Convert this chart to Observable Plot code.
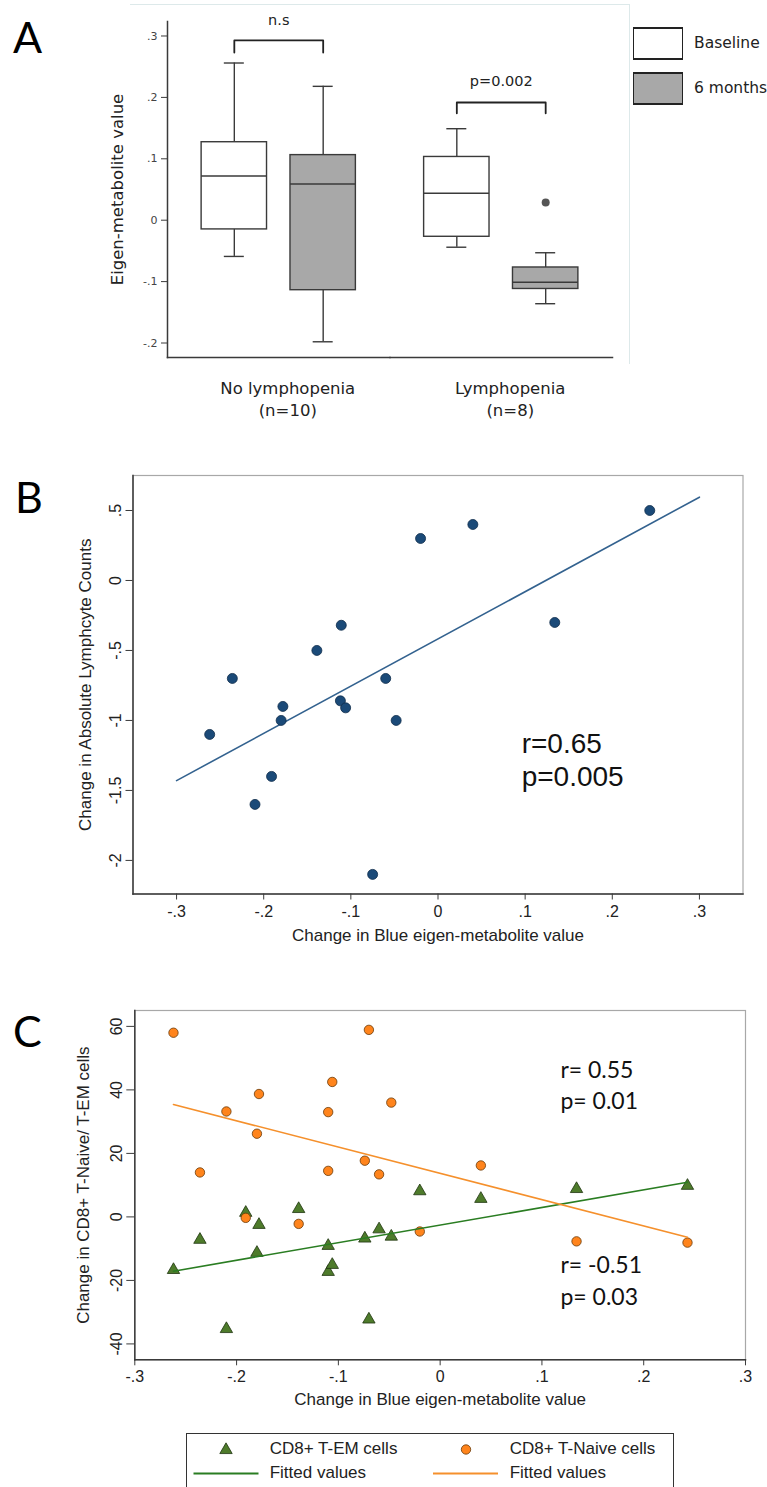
<!DOCTYPE html>
<html>
<head>
<meta charset="utf-8">
<script src="https://cdn.jsdelivr.net/npm/d3@7"></script>
<script src="https://cdn.jsdelivr.net/npm/@observablehq/plot@0.6"></script>
<style>
html, body { margin: 0; padding: 0; background: #fff; }
#page { position: relative; width: 767px; height: 1487px; overflow: hidden; background: #fff; }
.abs { position: absolute; }
.letter { font-family: Lato, "Liberation Sans", sans-serif; font-size: 43px; line-height: 43px; color: #000; }
.legA-box { position: absolute; width: 50px; height: 33px; box-sizing: border-box; border: 1px solid #222; border-top-width: 2.5px; border-bottom-width: 2.5px; }
.legA-text { position: absolute; font-family: "DejaVu Sans", sans-serif; font-size: 15.5px; line-height: 20px; color: #222; white-space: nowrap; }
#legC { position: absolute; box-sizing: border-box; border: 1.5px solid #333; background: #fff; }
.legC-text { position: absolute; font-family: "Liberation Sans", Arial, sans-serif; font-size: 17px; line-height: 20px; color: #222; white-space: nowrap; }
</style>
</head>
<body>
<div id="page"></div>
<script>
// ---------------- Panel A data ----------------
const groupsA = ["No lymphopenia", "Lymphopenia"];
const groupN = [10, 8];
const seriesA = ["Baseline", "6 months"];
const seriesFill = ["#ffffff", "#a8a8a8"];
const boxGroup = ["No lymphopenia", "No lymphopenia", "Lymphopenia", "Lymphopenia"];
const boxSeries = ["Baseline", "6 months", "Baseline", "6 months"];
const boxLo = [-0.059, -0.198, -0.044, -0.136];
const boxQ1 = [-0.015, -0.114, -0.027, -0.112];
const boxMed = [0.072, 0.059, 0.044, -0.101];
const boxQ3 = [0.127, 0.106, 0.103, -0.077];
const boxHi = [0.256, 0.218, 0.149, -0.053];
const outGroup = ["Lymphopenia"];
const outSeries = ["6 months"];
const outValue = [0.029];
const bracketGroup = ["No lymphopenia", "Lymphopenia"];
const bracketLabel = ["n.s", "p=0.002"];
const bracketTop = [0.2927, 0.1917];
const bracketFoot = [0.273, 0.174];
const bracketLabelY = [0.325, 0.226];
const yDomainA = [-0.2236, 0.3236];
const yTicksA = [-0.2, -0.1, 0, 0.1, 0.2, 0.3];
const yLabelA = "Eigen-metabolite value";

// ---------------- Panel B data ----------------
const bX = [-0.262, -0.236, -0.21, -0.191, -0.18, -0.178, -0.139, -0.111, -0.112, -0.106, -0.075, -0.06, -0.048, -0.02, 0.04, 0.134, 0.243];
const bY = [-1.1, -0.7, -1.6, -1.4, -1.0, -0.9, -0.5, -0.32, -0.86, -0.91, -2.1, -0.7, -1.0, 0.3, 0.4, -0.3, 0.5];
const fitBX = [-0.3, 0.3];
const fitBY = [-1.43, 0.595];
const statsBText = ["r=0.65", "p=0.005"];
const statsBX = [0.096, 0.096];
const statsBY = [-1.166, -1.405];
const xDomainB = [-0.35, 0.35];
const yDomainB = [-2.24, 0.75];
const xTicksB = [-0.3, -0.2, -0.1, 0, 0.1, 0.2, 0.3];
const yTicksB = [-2, -1.5, -1, -0.5, 0, 0.5];
const xLabelB = "Change in Blue eigen-metabolite value";
const yLabelB = "Change in Absolute Lymphcyte Counts";

// ---------------- Panel C data ----------------
const cX = [-0.262, -0.236, -0.21, -0.191, -0.18, -0.178, -0.139, -0.11, -0.11, -0.106, -0.074, -0.07, -0.06, -0.048, -0.02, 0.04, 0.134, 0.243];
const cNaive = [58, 14, 33.2, -0.3, 26.2, 38.7, -2.2, 33, 14.5, 42.5, 17.7, 58.9, 13.4, 36, -4.6, 16.2, -7.7, -8.1];
const cEM = [-16.7, -7.2, -35.3, 1.3, -11.3, -2.5, 2.5, -9.1, -17.3, -15.1, -6.8, -32.3, -3.9, -6.2, 8.1, 5.7, 8.8, 9.8];
const fitCX = [-0.262, 0.243];
const fitEMY = [-17.1, 10.9];
const fitNaiveY = [35.4, -6.4];
const statsCText = ["r= 0.55", "p= 0.01", "r= -0.51", "p= 0.03"];
const statsCX = [0.1182, 0.1182, 0.1182, 0.1182];
const statsCY = [46.1, 36.3, -15.3, -25.3];
const xDomainC = [-0.3, 0.3];
const yDomainC = [-45, 65];
const xTicksC = [-0.3, -0.2, -0.1, 0, 0.1, 0.2, 0.3];
const yTicksC = [-40, -20, 0, 20, 40, 60];
const xLabelC = "Change in Blue eigen-metabolite value";
const yLabelC = "Change in CD8+ T-Naive/ T-EM cells";
const colorEM = "#4e7b2b", strokeEM = "#1f3510", lineEM = "#2a7d22";
const colorNaive = "#ff841c", strokeNaive = "#6a3a08", lineNaive = "#f5902c";
const legendCLabels = ["CD8+ T-EM cells", "CD8+ T-Naive cells", "Fitted values", "Fitted values"];

// ---------------- helpers ----------------
const fmt = d => d === 0 ? "0" : String(d).replace(/^(-?)0\./, "$1.");
const page = document.getElementById("page");

// ---------------- Panel A ----------------
const boxes = boxGroup.map((g, i) => ({group: g, series: boxSeries[i], lo: boxLo[i], q1: boxQ1[i], med: boxMed[i], q3: boxQ3[i], hi: boxHi[i]}));
const outliers = outGroup.map((g, i) => ({group: g, series: outSeries[i], y: outValue[i]}));
const bracketPts = [];
bracketGroup.forEach((g, i) => {
  bracketPts.push({group: g, series: seriesA[0], y: bracketFoot[i]});
  bracketPts.push({group: g, series: seriesA[0], y: bracketTop[i]});
  bracketPts.push({group: g, series: seriesA[1], y: bracketTop[i]});
  bracketPts.push({group: g, series: seriesA[1], y: bracketFoot[i]});
});
const bracketTexts = bracketGroup.map((g, i) => ({group: g, label: bracketLabel[i], y: bracketLabelY[i]}));
const groupRows = groupsA.map((g, i) => ({group: g, text: `${g}\n(n=${groupN[i]})`}));
const ink = "#3a3a3a";

const plotA = Plot.plot({
  width: 767, height: 420,
  marginLeft: 167, marginRight: 155, marginTop: 21, marginBottom: 63,
  style: {fontFamily: "DejaVu Sans, sans-serif", fontSize: "11px", color: "#333", background: "transparent"},
  fx: {domain: groupsA, padding: 0, paddingInner: 0, paddingOuter: 0, round: false, axis: null, label: null},
  x: {domain: seriesA, paddingInner: 0.264, paddingOuter: 0.384, round: false, axis: null, label: null},
  y: {domain: yDomainA},
  color: {domain: seriesA, range: seriesFill},
  marks: [
    Plot.frame({anchor: "left", facetAnchor: "left", stroke: ink, strokeWidth: 1.5}),
    Plot.frame({anchor: "bottom", stroke: ink, strokeWidth: 1.5}),
    Plot.axisY({ticks: yTicksA, tickFormat: fmt, tickSize: 6, tickPadding: 4, fontSize: 11, label: null, stroke: ink, fill: "#444"}),
    Plot.text([yLabelA], {frameAnchor: "left", facetAnchor: "left", textAnchor: "middle", rotate: -90, dx: -50, fontSize: 16.5, fill: "#222"}),
    Plot.ruleX(boxes, {fx: "group", x: "series", y1: "q3", y2: "hi", stroke: ink, strokeWidth: 1.4}),
    Plot.ruleX(boxes, {fx: "group", x: "series", y1: "lo", y2: "q1", stroke: ink, strokeWidth: 1.4}),
    Plot.tickY(boxes, {fx: "group", x: "series", y: "hi", insetLeft: 22.7, insetRight: 22.7, stroke: ink, strokeWidth: 1.4}),
    Plot.tickY(boxes, {fx: "group", x: "series", y: "lo", insetLeft: 22.7, insetRight: 22.7, stroke: ink, strokeWidth: 1.4}),
    Plot.barY(boxes, {fx: "group", x: "series", y1: "q1", y2: "q3", fill: "series", stroke: ink, strokeWidth: 1.4}),
    Plot.tickY(boxes, {fx: "group", x: "series", y: "med", stroke: ink, strokeWidth: 1.4}),
    Plot.dot(outliers, {fx: "group", x: "series", y: "y", r: 4, fill: "#555", stroke: "none"}),
    Plot.line(bracketPts, {fx: "group", x: "series", y: "y", z: "group", stroke: "#222", strokeWidth: 1.8}),
    Plot.text(bracketTexts, {fx: "group", y: "y", text: "label", fontSize: 14.5, fill: "#222"}),
    Plot.text(groupRows, {fx: "group", text: "text", frameAnchor: "bottom", lineAnchor: "top", dy: 21, dx: 9, lineHeight: 1.33, fontSize: 16.5, fill: "#222"})
  ]
});
plotA.style.position = "absolute"; plotA.style.left = "0px"; plotA.style.top = "0px";
page.appendChild(plotA);

// ---------------- Panel B ----------------
const rowsB = bX.map((x, i) => ({x, y: bY[i]}));
const fitRowsB = fitBX.map((x, i) => ({x, y: fitBY[i]}));
const statsB = statsBText.map((t, i) => ({text: t, x: statsBX[i], y: statsBY[i]}));
const plotB = Plot.plot({
  width: 767, height: 493.5,
  marginLeft: 132.5, marginRight: 24.5, marginTop: 15, marginBottom: 60,
  style: {fontFamily: "Liberation Sans, Arial, sans-serif", fontSize: "16px", color: "#222", background: "transparent"},
  x: {domain: xDomainB},
  y: {domain: yDomainB},
  marks: [
    Plot.frame({stroke: "#a8a8a8", strokeWidth: 1.2}),
    Plot.frame({anchor: "left", stroke: ink, strokeWidth: 1.5}),
    Plot.frame({anchor: "bottom", stroke: ink, strokeWidth: 1.5}),
    Plot.axisX({ticks: xTicksB, tickFormat: fmt, tickSize: 6, tickPadding: 6, fontSize: 16, label: null, stroke: ink, fill: "#222"}),
    Plot.axisY({ticks: yTicksB, tickFormat: fmt, tickSize: 7, tickPadding: 5, tickRotate: -90, fontSize: 16, label: null, stroke: ink, fill: "#222"}),
    Plot.text([xLabelB], {frameAnchor: "bottom", dy: 46.5, fontSize: 17, fill: "#222"}),
    Plot.text([yLabelB], {frameAnchor: "left", textAnchor: "middle", rotate: -90, dx: -47.5, fontSize: 17, fill: "#222"}),
    Plot.line(fitRowsB, {x: "x", y: "y", stroke: "#33628f", strokeWidth: 1.6}),
    Plot.dot(rowsB, {x: "x", y: "y", r: 5, fill: "#1b4a78", stroke: "#0f2c4a", strokeWidth: 0.8}),
    Plot.text(statsB, {x: "x", y: "y", text: "text", textAnchor: "start", fontSize: 28, fill: "#111"})
  ]
});
plotB.style.position = "absolute"; plotB.style.left = "0px"; plotB.style.top = "460px";
page.appendChild(plotB);

// ---------------- Panel C ----------------
const rowsEM = cX.map((x, i) => ({x, y: cEM[i]}));
const rowsNaive = cX.map((x, i) => ({x, y: cNaive[i]}));
const fitEM = fitCX.map((x, i) => ({x, y: fitEMY[i]}));
const fitNaive = fitCX.map((x, i) => ({x, y: fitNaiveY[i]}));
const statsC = statsCText.map((t, i) => ({text: t, x: statsCX[i], y: statsCY[i]}));
const plotC = Plot.plot({
  width: 767, height: 459.3,
  marginLeft: 134.3, marginRight: 22, marginTop: 50, marginBottom: 60,
  style: {fontFamily: "Liberation Sans, Arial, sans-serif", fontSize: "16px", color: "#222", background: "transparent"},
  x: {domain: xDomainC},
  y: {domain: yDomainC},
  marks: [
    Plot.frame({stroke: "#a8a8a8", strokeWidth: 1.2}),
    Plot.frame({anchor: "left", stroke: ink, strokeWidth: 1.5}),
    Plot.frame({anchor: "bottom", stroke: ink, strokeWidth: 1.5}),
    Plot.axisX({ticks: xTicksC, tickFormat: fmt, tickSize: 6, tickPadding: 5, fontSize: 16, label: null, stroke: ink, fill: "#222"}),
    Plot.axisY({ticks: yTicksC, tickFormat: fmt, tickSize: 8, tickPadding: 5, tickRotate: -90, fontSize: 16, label: null, stroke: ink, fill: "#222"}),
    Plot.text([xLabelC], {frameAnchor: "bottom", dy: 45.7, fontSize: 17, fill: "#222"}),
    Plot.text([yLabelC], {frameAnchor: "left", textAnchor: "middle", rotate: -90, dx: -51.3, fontSize: 17, fill: "#222"}),
    Plot.dot(rowsEM, {x: "x", y: "y", symbol: "triangle", r: 4.6, fill: colorEM, stroke: strokeEM, strokeWidth: 0.8}),
    Plot.dot(rowsNaive, {x: "x", y: "y", r: 4.7, fill: colorNaive, stroke: strokeNaive, strokeWidth: 0.8}),
    Plot.line(fitEM, {x: "x", y: "y", stroke: lineEM, strokeWidth: 1.6}),
    Plot.line(fitNaive, {x: "x", y: "y", stroke: lineNaive, strokeWidth: 1.6}),
    Plot.text(statsC, {x: "x", y: "y", text: "text", textAnchor: "start", fontFamily: "Lato, sans-serif", fontSize: 23, fill: "#111"})
  ]
});
plotC.style.position = "absolute"; plotC.style.left = "0px"; plotC.style.top = "960px";
page.appendChild(plotC);

// ---------------- Decorations: letters, panel A frame ----------------
const letters = [["A", 13, 15], ["B", 15, 475], ["C", 13, 1009]];
letters.forEach(([t, l, tp]) => {
  const d = document.createElement("div");
  d.className = "abs letter"; d.textContent = t;
  d.style.left = l + "px"; d.style.top = tp + "px";
  page.appendChild(d);
});
const lightFrame = document.createElement("div");
lightFrame.className = "abs";
Object.assign(lightFrame.style, {left: "130px", top: "4px", width: "499px", height: "359px", borderTop: "1.5px solid #dde9ea", borderRight: "1.5px solid #dde9ea"});
page.appendChild(lightFrame);

// ---------------- Legend A ----------------
seriesA.forEach((s, i) => {
  const b = document.createElement("div");
  b.className = "legA-box";
  b.style.left = "633px"; b.style.top = (27 + 45 * i) + "px"; b.style.background = seriesFill[i];
  page.appendChild(b);
  const t = document.createElement("div");
  t.className = "legA-text"; t.textContent = s;
  t.style.left = "694px"; t.style.top = (33 + 45 * i) + "px";
  page.appendChild(t);
});

// ---------------- Legend C ----------------
const legC = document.createElement("div");
legC.id = "legC";
Object.assign(legC.style, {left: "185.7px", top: "1432.7px", width: "488.6px", height: "80px"});
page.appendChild(legC);
const sw = d3.select(legC).append("svg").attr("width", 488).attr("height", 78).style("position", "absolute").style("left", "0px").style("top", "0px");
const tri = d3.symbol(d3.symbolTriangle, Math.PI * 4.6 * 4.6)();
sw.append("path").attr("d", tri).attr("transform", "translate(39,16)").attr("fill", colorEM).attr("stroke", strokeEM).attr("stroke-width", 0.8);
sw.append("circle").attr("cx", 279).attr("cy", 15.5).attr("r", 4.7).attr("fill", colorNaive).attr("stroke", strokeNaive).attr("stroke-width", 0.8);
sw.append("line").attr("x1", 6.5).attr("x2", 71.5).attr("y1", 39.5).attr("y2", 39.5).attr("stroke", lineEM).attr("stroke-width", 1.8);
sw.append("line").attr("x1", 246).attr("x2", 311).attr("y1", 39.5).attr("y2", 39.5).attr("stroke", lineNaive).attr("stroke-width", 1.8);
const legPos = [[83, 5.5], [323, 5.5], [83, 29.5], [323, 29.5]];
legendCLabels.forEach((lab, i) => {
  const t = document.createElement("div");
  t.className = "legC-text"; t.textContent = lab;
  t.style.left = legPos[i][0] + "px"; t.style.top = legPos[i][1] + "px";
  legC.appendChild(t);
});
</script>
</body>
</html>
